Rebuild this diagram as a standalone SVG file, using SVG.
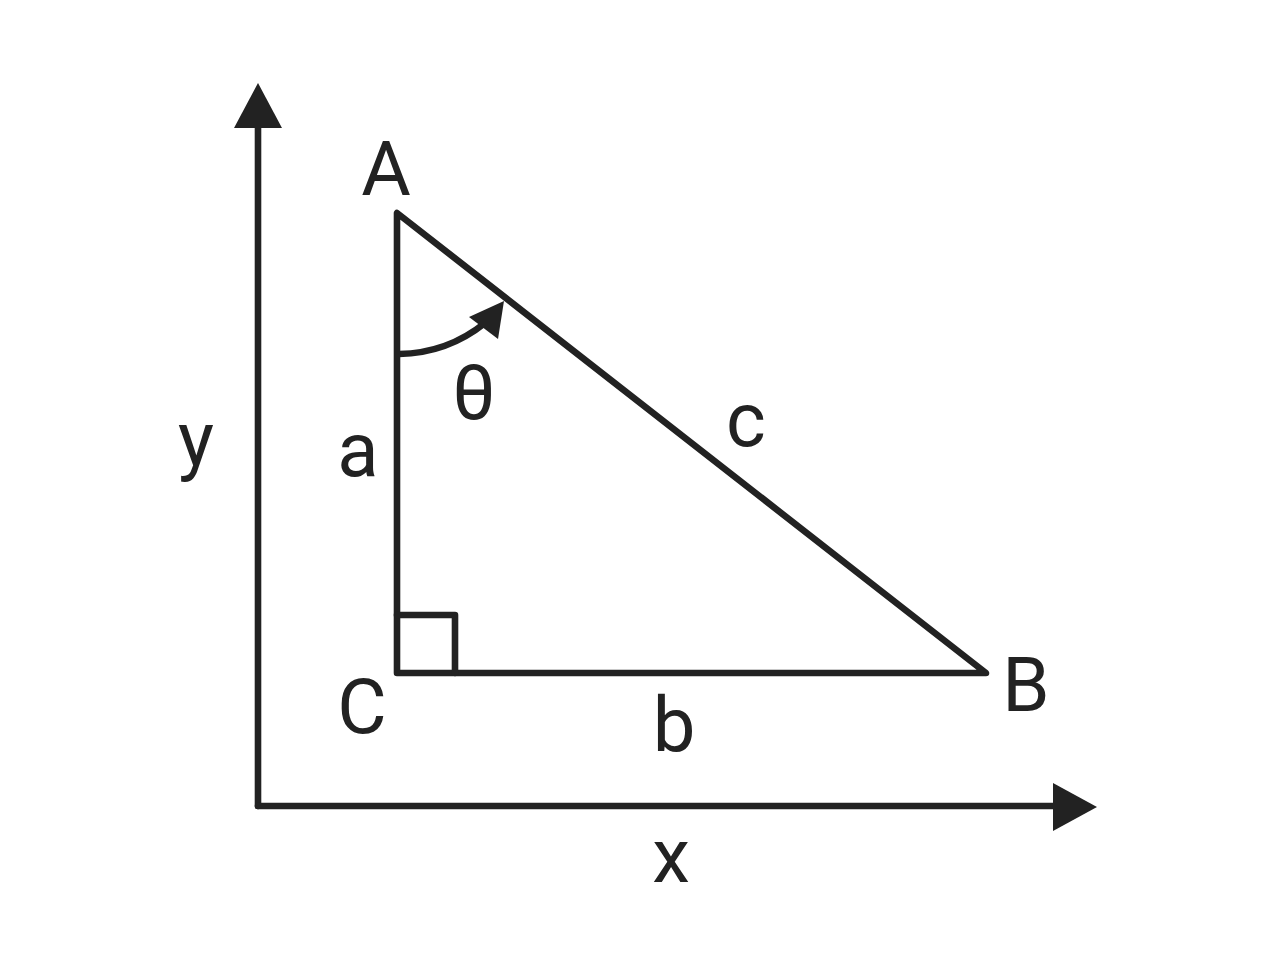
<svg xmlns="http://www.w3.org/2000/svg" width="1280" height="956" viewBox="0 0 1280 956">
<style>
.ln{fill:none;stroke:#222;stroke-width:6.6;stroke-linejoin:round;stroke-linecap:round}
.ah{fill:#222;stroke:none}
.lbl{font-family:Roboto,"Liberation Sans",sans-serif;font-size:76px;fill:#222;text-anchor:middle}
</style>
<rect width="1280" height="956" fill="#fff"/>
<g id="connectors">
<g id="y-axis">
<line class="ln" x1="258" y1="806" x2="258" y2="124"/>
<polygon class="ah" points="258,83 282,128 234,128"/>
</g>
<g id="x-axis">
<line class="ln" x1="258" y1="806" x2="1056" y2="806"/>
<polygon class="ah" points="1097,807 1053,783 1053,831"/>
</g>
<g id="theta-arc">
<path class="ln" d="M 399 354 A 141 141 0 0 0 485 323"/>
<polygon class="ah" points="504,301 469,317 498,339"/>
</g>
</g>
<g id="triangle">
<polygon class="ln" points="397,213 397,673 986,673"/>
<polyline class="ln" points="397,615 455,615 455,673"/>
</g>
<g id="label-A"><text class="lbl" x="386" y="195">A</text></g>
<g id="label-B"><text class="lbl" x="1026" y="711">B</text></g>
<g id="label-C"><text class="lbl" x="362" y="733">C</text></g>
<g id="label-a"><text class="lbl" x="358" y="476" font-size="80">a</text></g>
<g id="label-b"><text class="lbl" x="674" y="751" font-size="80">b</text></g>
<g id="label-c"><text class="lbl" x="746" y="446" font-size="78">c</text></g>
<g id="label-theta"><text class="lbl" x="474" y="419" font-size="76">θ</text></g>
<g id="label-x"><text class="lbl" x="671" y="882" font-size="80">x</text></g>
<g id="label-y"><text class="lbl" x="196" y="465" font-size="80">y</text></g>
</svg>
